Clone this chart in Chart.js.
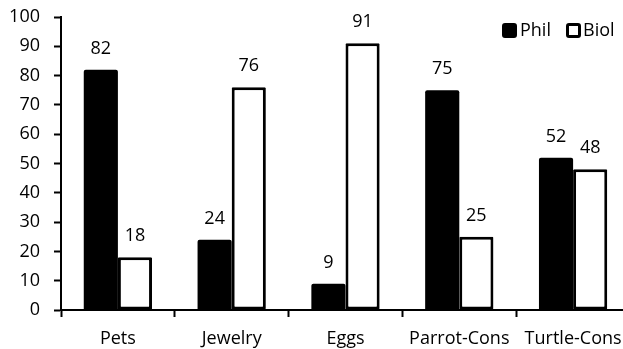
<!DOCTYPE html>
<html>
<head>
<meta charset="utf-8">
<script src="https://cdn.jsdelivr.net/npm/chart.js@4/dist/chart.umd.min.js"></script>
<style>
  html, body { margin: 0; padding: 0; background: #fff; }
  #wrap { width: 623px; height: 349px; overflow: hidden; position: relative; }
  canvas { display: block; }
</style>
</head>
<body>
<div id="wrap"><canvas id="c" width="630" height="349"></canvas></div>
<script>
const categories = ['Pets', 'Jewelry', 'Eggs', 'Parrot-Cons', 'Turtle-Cons'];
const philValues = [82, 24, 9, 75, 52];
const biolValues = [18, 76, 91, 25, 48];
const seriesNames = ['Phil', 'Biol'];
const yTicks = [0, 10, 20, 30, 40, 50, 60, 70, 80, 90, 100];

const FONT = '"Open Sans", sans-serif';

// value labels above each bar
const valueLabels = {
  id: 'valueLabels',
  afterDatasetsDraw(chart) {
    const ctx = chart.ctx;
    ctx.save();
    ctx.font = '18px ' + FONT;
    ctx.fillStyle = '#000';
    ctx.textAlign = 'center';
    ctx.textBaseline = 'alphabetic';
    chart.data.datasets.forEach((ds, i) => {
      chart.getDatasetMeta(i).data.forEach((bar, j) => {
        ctx.fillText(String(ds.data[j]), bar.x, bar.y - 16);
      });
    });
    ctx.restore();
  }
};

// legend in the top-right corner
const cornerLegend = {
  id: 'cornerLegend',
  afterDraw(chart) {
    const ctx = chart.ctx;
    ctx.save();
    ctx.font = '18px ' + FONT;
    ctx.textBaseline = 'alphabetic';
    ctx.textAlign = 'left';
    const items = [
      { box: 502, text: 520, fill: '#000' },
      { box: 566, text: 583, fill: '#fff' }
    ];
    items.forEach((it, i) => {
      ctx.beginPath();
      ctx.roundRect(it.box + 1.5, 24.5, 12, 12, 1.5);
      ctx.fillStyle = it.fill;
      ctx.fill();
      ctx.lineWidth = 3;
      ctx.strokeStyle = '#000';
      ctx.stroke();
      ctx.fillStyle = '#000';
      ctx.fillText(chart.data.datasets[i].label, it.text, 36);
    });
    ctx.restore();
  }
};

new Chart(document.getElementById('c'), {
  type: 'bar',
  data: {
    labels: categories,
    datasets: [
      {
        label: seriesNames[0],
        data: philValues,
        backgroundColor: '#000',
        borderWidth: 0,
        borderRadius: { topLeft: 2, topRight: 2, bottomLeft: 0, bottomRight: 0 }
      },
      {
        label: seriesNames[1],
        data: biolValues,
        backgroundColor: '#fff',
        borderColor: '#000',
        borderWidth: 3,
        borderSkipped: false,
        borderRadius: 1
      }
    ]
  },
  options: {
    responsive: false,
    animation: false,
    devicePixelRatio: 1,
    layout: { padding: { top: 17, right: 0, bottom: 0, left: 0 } },
    datasets: { bar: { categoryPercentage: 0.6, barPercentage: 1 } },
    plugins: {
      legend: { display: false },
      tooltip: { enabled: false }
    },
    scales: {
      x: {
        offset: true,
        grid: {
          offset: true,
          drawOnChartArea: false,
          drawTicks: true,
          tickLength: 7,
          tickWidth: 2,
          tickColor: '#000'
        },
        border: { display: true, color: '#000', width: 2 },
        ticks: {
          color: '#000',
          font: { family: FONT, size: 18 },
          padding: 11,
          maxRotation: 0,
          autoSkip: false
        },
        afterFit(scale) { scale.height = 39; scale.paddingLeft = 0; scale.paddingRight = 0; }
      },
      y: {
        min: 0,
        max: 100,
        afterBuildTicks(scale) { scale.ticks = yTicks.map(v => ({ value: v })); },
        grid: {
          drawOnChartArea: false,
          drawTicks: true,
          tickLength: 7,
          tickWidth: 2,
          tickColor: '#000'
        },
        border: { display: true, color: '#000', width: 2 },
        ticks: {
          color: '#000',
          font: { family: FONT, size: 18 },
          padding: 14
        },
        afterFit(scale) { scale.width = 61; scale.paddingTop = 0; scale.paddingBottom = 0; }
      }
    }
  },
  plugins: [valueLabels, cornerLegend]
});
</script>
</body>
</html>
